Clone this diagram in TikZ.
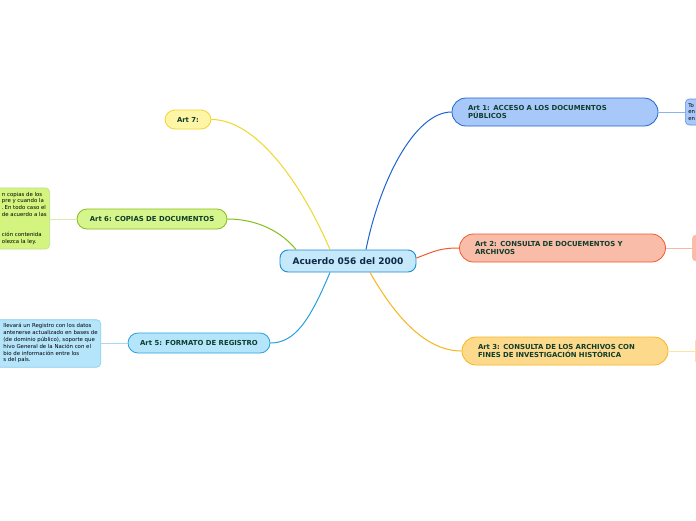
\documentclass[tikz,border=0pt]{standalone}
\usepackage{fontspec}
\setmainfont{DejaVu Sans}
\usetikzlibrary{calc}

\definecolor{hubfill}{HTML}{C6E8FB}
\definecolor{hubdraw}{HTML}{1B8DD6}
\definecolor{hubtext}{HTML}{0E2A47}
\definecolor{arttext}{HTML}{0F3D2C}
\definecolor{bluefill}{HTML}{A8C8FA}
\definecolor{bluedraw}{HTML}{1F63D1}
\definecolor{bluelink}{HTML}{8AB3F5}
\definecolor{redfill}{HTML}{F8BCA8}
\definecolor{reddraw}{HTML}{EF5B2C}
\definecolor{redlink}{HTML}{F6B9A6}
\definecolor{orangefill}{HTML}{FDD98B}
\definecolor{orangedraw}{HTML}{F7B51C}
\definecolor{orangelink}{HTML}{FDE3A5}
\definecolor{yellowfill}{HTML}{FFF5A6}
\definecolor{yellowdraw}{HTML}{EFD72E}
\definecolor{greenfill}{HTML}{D6F58C}
\definecolor{greenleaf}{HTML}{D3F47E}
\definecolor{greendraw}{HTML}{86BE1A}
\definecolor{greenlink}{HTML}{D9ECB0}
\definecolor{skyfill}{HTML}{B4E5FB}
\definecolor{skydraw}{HTML}{27A1DE}
\definecolor{skylink}{HTML}{A8D8F2}

\begin{document}
\begin{tikzpicture}[
  x=1pt, y=-1pt,
  hub/.style={rectangle, draw=hubdraw, fill=hubfill, line width=0.9pt, rounded corners=8pt,
    minimum width=136pt, minimum height=22pt, font=\fontsize{9}{10.8}\selectfont\bfseries, text=hubtext},
  art/.style={rectangle, draw, line width=0.8pt, align=left, inner xsep=4pt,
    font=\fontsize{6.9}{8.4}\selectfont\bfseries, text=arttext},
  pill/.style={art, minimum width=206pt, minimum height=28pt, rounded corners=14pt, text width=174pt},
  small/.style={art, minimum height=20pt, rounded corners=10pt},
  leaf/.style={rectangle, draw, line width=0.6pt, rounded corners=4pt, align=left, inner xsep=3pt,
    font=\fontsize{5.4}{6.8}\selectfont, text=black},
  branch/.style={line width=1pt},
  twig/.style={line width=0.8pt}
]
\useasboundingbox (0,0) rectangle (696,520);
\clip (0,0) rectangle (696,520);
\fill[white] (0,0) rectangle (696,520);

% central topic
\node (hub) [hub] at (348,261) {Acuerdo 056 del 2000};

% right side
\node (art1) [pill, fill=bluefill, draw=bluedraw] at (555,112) {Art 1: ACCESO A LOS DOCUMENTOS\\PÚBLICOS};
\node (art2) [pill, fill=redfill, draw=reddraw, text width=175pt] at (562.5,248) {Art 2: CONSULTA DE DOCUEMENTOS Y\\ARCHIVOS};
\node (art3) [pill, fill=orangefill, draw=orangedraw] at (565,351) {Art 3: CONSULTA DE LOS ARCHIVOS CON\\FINES DE INVESTIGACIÓN HISTÓRICA};

% left side
\node (art7) [small, fill=yellowfill, draw=yellowdraw, minimum width=46pt, minimum height=19pt] at (188,119.5) {Art 7:};
\node (art6) [small, fill=greenfill, draw=greendraw, minimum width=150pt] at (152,219) {Art 6: COPIAS DE DOCUMENTOS};
\node (art5) [small, fill=skyfill, draw=skydraw, minimum width=142pt] at (199,343) {Art 5: FORMATO DE REGISTRO};

% details (cut by the page edge)
\node (det1) [leaf, fill=bluefill, draw=bluedraw!70, anchor=west, minimum height=26pt, text width=40pt] at (685,112) {To\\en\\en};
\node (det2) [leaf, fill=redfill, draw=reddraw!45, anchor=west, minimum height=26pt, minimum width=40pt] at (692,248) {};
\node (det3) [leaf, fill=orangefill, draw=orangedraw!45, anchor=west, minimum height=26pt, minimum width=40pt] at (695,351) {};
\node (det6) [leaf, fill=greenleaf, draw=greendraw!50, anchor=east, minimum height=57pt] at (50,218.5)
  {\begin{tabular}{@{\hspace{8pt}}l@{}}n copias de los\\pre y cuando la\\.\,En todo caso el\\de acuerdo a las\\[13.6pt]ción contenida\\olezca la ley.\end{tabular}};
\node (det5) [leaf, fill=skyfill, draw=skydraw!55, anchor=east, minimum height=45pt] at (101,343.5)
  {\begin{tabular}{@{\hspace{8pt}}l@{}}llevará un Registro con los datos\\antenerse actualizado en bases de\\(de dominio público), soporte que\\hivo General de la Nación con el\\bio de información entre los\\s del país.\end{tabular}};

% branches
\draw [branch, draw=bluedraw] ([xshift=18pt]hub.north) .. controls (380,180) and (415,112) .. (art1.west);
\draw [branch, draw=reddraw] ([yshift=3pt]hub.east) .. controls (435,251) and (440,248) .. (art2.west);
\draw [branch, draw=orangedraw] ([xshift=22pt]hub.south) .. controls (400,325) and (430,351) .. (art3.west);
\draw [branch, draw=yellowdraw] ([xshift=-18pt]hub.north) .. controls (300,180) and (255,119.5) .. (art7.east);
\draw [branch, draw=greendraw] ([xshift=-52pt]hub.north) .. controls (280,230) and (255,219) .. (art6.east);
\draw [branch, draw=skydraw] ([xshift=-18pt]hub.south) .. controls (310,320) and (295,343) .. (art5.east);

\draw [twig, draw=bluelink] (art1.east) -- (det1.west);
\draw [twig, draw=redlink] (art2.east) -- (det2.west);
\draw [twig, draw=orangelink] (art3.east) -- (det3.west);
\draw [twig, draw=greenlink] (art6.west) -- (det6.east |- art6.west);
\draw [twig, draw=skylink] (art5.west) -- (det5.east |- art5.west);

\end{tikzpicture}
\end{document}
